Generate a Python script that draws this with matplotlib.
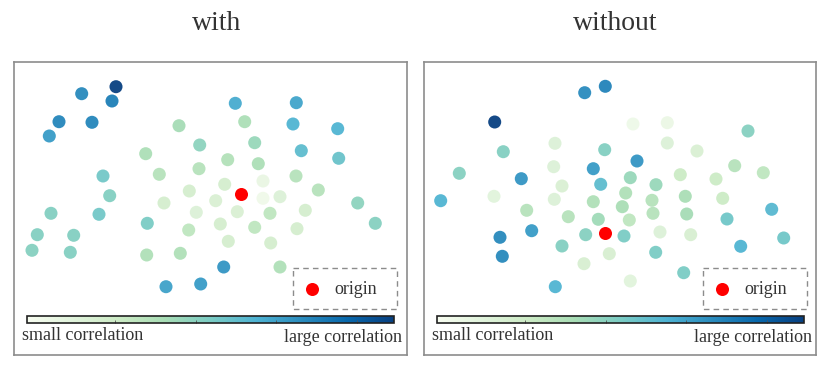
import matplotlib
matplotlib.use("Agg")
import matplotlib.pyplot as plt
from matplotlib.patches import Rectangle
import numpy as np

plt.rcParams['font.family'] = ['Liberation Serif', 'DejaVu Serif']

# ---------------- data (positions in panel units, y downward) ----------------
titles = ["with", "without"]

with_x = [102, 67.7, 98, 45, 78, 35.3, 221.3, 282.3, 230.7, 165, 279, 323.7, 185.7, 240.7,
          287.3, 324.7, 131.7, 213.7, 244.3, 185, 145.3, 89, 282, 210.7, 249, 175.3,
          304.3, 95.7, 201.7, 249, 266, 150, 343.7, 37, 85, 182.3, 223.3, 256, 291.3,
          133.3, 361.3, 206.3, 174.7, 240.7, 283, 23.3, 59.7, 214.3, 256.7, 18, 56.3,
          132.7, 166.3, 209.7, 266, 152, 186.7]
with_y = [24.7, 31.7, 39, 59.7, 60.3, 74, 41.3, 40.7, 59.7, 63.7, 62, 66.7, 83, 80.7,
          88.7, 96.3, 91.7, 97.7, 101.7, 106.7, 112.3, 114, 114, 122.3, 119, 129,
          128, 133.7, 138.7, 136.3, 134.7, 141, 141, 151.3, 152.3, 150.3, 149.7, 151.3, 148.3,
          161.3, 161.3, 162, 168, 165.3, 166.7, 172.7, 173.3, 179.3, 181, 188.3, 190.3,
          193, 191.3, 205, 205, 224.7, 222]
with_corr = [1.0, 0.76, 0.8, 0.77, 0.77, 0.7, 0.65, 0.67, 0.36, 0.38, 0.62, 0.62, 0.45, 0.42,
             0.58, 0.55, 0.36, 0.34, 0.36, 0.33, 0.33, 0.52, 0.33, 0.2, 0.08, 0.2,
             0.33, 0.48, 0.17, 0.04, 0.15, 0.2, 0.45, 0.48, 0.52, 0.15, 0.17, 0.3, 0.2,
             0.5, 0.47, 0.2, 0.3, 0.3, 0.2, 0.48, 0.48, 0.2, 0.2, 0.47, 0.48,
             0.35, 0.35, 0.72, 0.35, 0.68, 0.7]
with_origin = (227, 132)

without_x = [181.3, 160.7, 70.7, 209, 243.3, 324, 131, 243.3, 79.3, 180.7, 273, 213, 129.7,
             169.3, 310.7, 35.3, 339.3, 97.3, 206.3, 256.3, 292, 138, 176.7, 232, 70,
             201.7, 130.3, 16.7, 169.3, 228, 261.3, 298.7, 198.3, 102.7, 229, 262.7, 347.7,
             144.3, 174.3, 205.3, 303, 107.7, 76, 161.7, 200, 236, 266.7, 359.7, 138,
             316.7, 78.3, 185.3, 231.7, 160, 259.7, 206.3, 131.3]
without_y = [24.3, 30.7, 60, 62, 60.7, 69, 81.3, 81, 89.7, 87.7, 89, 99, 104.7,
             106.7, 103.7, 111.3, 110.7, 116.7, 115.7, 112.7, 117, 124, 122.3, 122.7, 134.3,
             131, 137.3, 138.7, 139.7, 138.3, 134.3, 136.3, 144.7, 148.3, 151.3, 152, 147.3,
             154.7, 157.3, 158, 157, 168.7, 175.3, 172.7, 174, 170, 172.7, 176, 184,
             184.3, 194.3, 191.7, 190.3, 201.7, 210.7, 219, 224.7]
without_corr = [0.78, 0.75, 1.0, 0.05, 0.07, 0.47, 0.15, 0.15, 0.48, 0.48, 0.17, 0.72, 0.15,
                0.7, 0.33, 0.47, 0.3, 0.72, 0.42, 0.25, 0.25, 0.17, 0.58, 0.42, 0.12,
                0.35, 0.15, 0.62, 0.35, 0.33, 0.37, 0.25, 0.37, 0.33, 0.33, 0.38, 0.6,
                0.33, 0.4, 0.3, 0.53, 0.7, 0.76, 0.47, 0.5, 0.15, 0.18, 0.53, 0.48,
                0.62, 0.76, 0.18, 0.5, 0.18, 0.5, 0.12, 0.62]
without_origin = (180.7, 171.3)

legend_label = "origin"
cbar_low_label = "small correlation"
cbar_high_label = "large correlation"

panels = [
    (with_x, with_y, with_corr, with_origin),
    (without_x, without_y, without_corr, without_origin),
]

# ---------------- layout ----------------
W, H = 830, 373
fig = plt.figure(figsize=(W / 100, H / 100), dpi=100)

boxes = [(14, 62, 393, 293), (424, 62, 392, 293)]
title_cx = [217, 615]
text_col = '#333333'
cmap = plt.get_cmap('GnBu')

for i, ((bl, bt, bw, bh), (xs, ys, cs, org)) in enumerate(zip(boxes, panels)):
    ax = fig.add_axes([bl / W, 1 - (bt + bh) / H, bw / W, bh / H])
    ax.set_xlim(0, bw)
    ax.set_ylim(bh, 0)
    ax.set_xticks([])
    ax.set_yticks([])
    for sp in ax.spines.values():
        sp.set_color('#8c8c8c')
        sp.set_linewidth(1.2)

    sc = ax.scatter(xs, ys, c=cs, cmap=cmap, vmin=0, vmax=1, s=88,
                    linewidths=0, alpha=0.95, zorder=3)
    ax.scatter([org[0]], [org[1]], c='#ff0000', s=88, linewidths=0, zorder=4)

    # legend box (dashed)
    ax.add_patch(Rectangle((279.3, 206.3), 103.5, 40.7, fill=False,
                           edgecolor='#8c8c8c', linestyle=(0, (4, 3)), linewidth=1.0,
                           zorder=5))
    ax.scatter([298], [227.3], c='#ff0000', s=88, linewidths=0, zorder=6)
    ax.text(320.5, 227.5, legend_label, fontsize=13, color=text_col,
            va='center', ha='left', zorder=6)

    # colorbar
    cx0, cx1, cy0, cy1 = bl + 12.7, bl + 379.7, bt + 254, bt + 260.7
    cax = fig.add_axes([cx0 / W, 1 - cy1 / H, (cx1 - cx0) / W, (cy1 - cy0) / H])
    cb = fig.colorbar(sc, cax=cax, orientation='horizontal')
    cb.solids.set_alpha(1)
    cb.outline.set_edgecolor('#222222')
    cb.outline.set_linewidth(1.2)
    cb.set_ticks([0.24, 0.46, 0.68, 0.9])
    cax.tick_params(axis='x', length=2, width=0.6, direction='in', colors='#555555',
                    labelbottom=False)

    fig.text((bl + 7.5) / W, 1 - (bt + 278) / H, cbar_low_label, fontsize=13,
             color=text_col, ha='left', va='baseline')
    fig.text((bl + 388) / W, 1 - (bt + 280) / H, cbar_high_label, fontsize=13,
             color=text_col, ha='right', va='baseline')

    fig.text(title_cx[i] / W, 1 - 29.5 / H, titles[i], fontsize=20, color=text_col,
             ha='center', va='baseline')

fig.savefig('out.png', dpi=100)
